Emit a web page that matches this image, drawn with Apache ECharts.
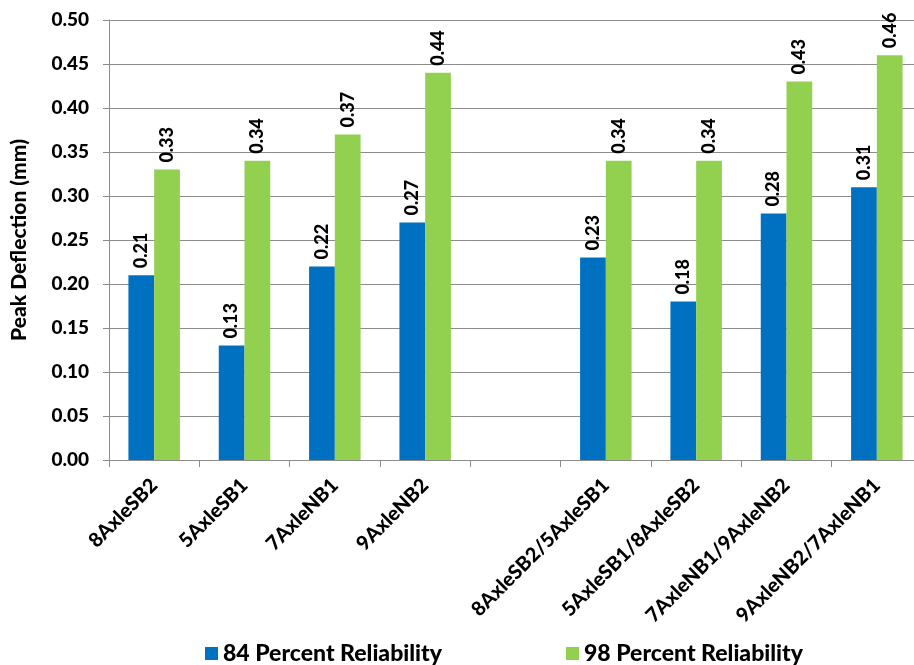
<!DOCTYPE html>
<html>
<head>
<meta charset="utf-8">
<script src="https://cdn.jsdelivr.net/npm/echarts@6/dist/echarts.min.js"></script>
<style>
  html, body { margin: 0; padding: 0; background: #fff; }
  #chart { width: 914px; height: 665px; }
</style>
</head>
<body>
<div id="chart"></div>
<script>
// Vehicle configurations (blank slot separates single runs from paired runs)
const categories = [
  '8AxleSB2', '5AxleSB1', '7AxleNB1', '9AxleNB2', '',
  '8AxleSB2/5AxleSB1', '5AxleSB1/8AxleSB2', '7AxleNB1/9AxleNB2', '9AxleNB2/7AxleNB1'
];
// Peak deflection (mm)
const reliability84 = [0.21, 0.13, 0.22, 0.27, null, 0.23, 0.18, 0.28, 0.31];
const reliability98 = [0.33, 0.34, 0.37, 0.44, null, 0.34, 0.34, 0.43, 0.46];
const seriesNames = ['84 Percent Reliability', '98 Percent Reliability'];

const font = 'Lato, "Open Sans", sans-serif';
const weight = 900;
const axisGray = '#8c8c8c';

const chart = echarts.init(document.getElementById('chart'), null, { renderer: 'canvas' });

const barLabel = {
  show: true,
  position: 'top',
  rotate: 90,
  align: 'left',
  verticalAlign: 'middle',
  distance: 7,
  fontFamily: font,
  fontWeight: weight,
  fontSize: 18,
  color: '#000',
  formatter: p => (p.value == null ? '' : p.value.toFixed(2))
};

chart.setOption({
  animation: false,
  backgroundColor: '#fff',
  // the plot runs slightly past the right edge of the canvas
  grid: { left: 109, top: 20, width: 813, height: 440, containLabel: false, outerBoundsMode: 'none' },
  legend: {
    left: 200,
    top: 637,
    itemWidth: 13,
    itemHeight: 13,
    itemGap: 124,
    icon: 'rect',
    textStyle: { fontFamily: font, fontWeight: weight, fontSize: 23, color: '#000' },
    data: seriesNames
  },
  xAxis: {
    type: 'category',
    data: categories,
    axisLine: { lineStyle: { color: axisGray, width: 1 } },
    axisTick: { show: true, length: 7, lineStyle: { color: axisGray } },
    axisLabel: {
      interval: 0,
      rotate: 45,
      margin: 22,
      fontFamily: font,
      fontWeight: weight,
      fontSize: 20,
      color: '#000'
    }
  },
  yAxis: {
    type: 'value',
    min: 0,
    max: 0.5,
    interval: 0.05,
    name: 'Peak Deflection (mm)',
    nameLocation: 'middle',
    nameGap: 79,
    nameRotate: 90,
    nameTextStyle: { fontFamily: font, fontWeight: weight, fontSize: 21, color: '#000' },
    axisLine: { show: true, lineStyle: { color: axisGray, width: 1 } },
    axisTick: { show: true, length: 6, lineStyle: { color: axisGray } },
    splitLine: { lineStyle: { color: axisGray, width: 1 } },
    axisLabel: {
      margin: 20,
      fontFamily: font,
      fontWeight: weight,
      fontSize: 19,
      color: '#000',
      formatter: v => v.toFixed(2)
    }
  },
  series: [
    {
      name: seriesNames[0],
      type: 'bar',
      data: reliability84,
      barGap: '0%',
      barCategoryGap: '43%',
      itemStyle: { color: '#0070C0' },
      label: barLabel
    },
    {
      name: seriesNames[1],
      type: 'bar',
      data: reliability98,
      barGap: '0%',
      barCategoryGap: '43%',
      itemStyle: { color: '#92D050' },
      label: barLabel
    }
  ]
});
</script>
</body>
</html>
